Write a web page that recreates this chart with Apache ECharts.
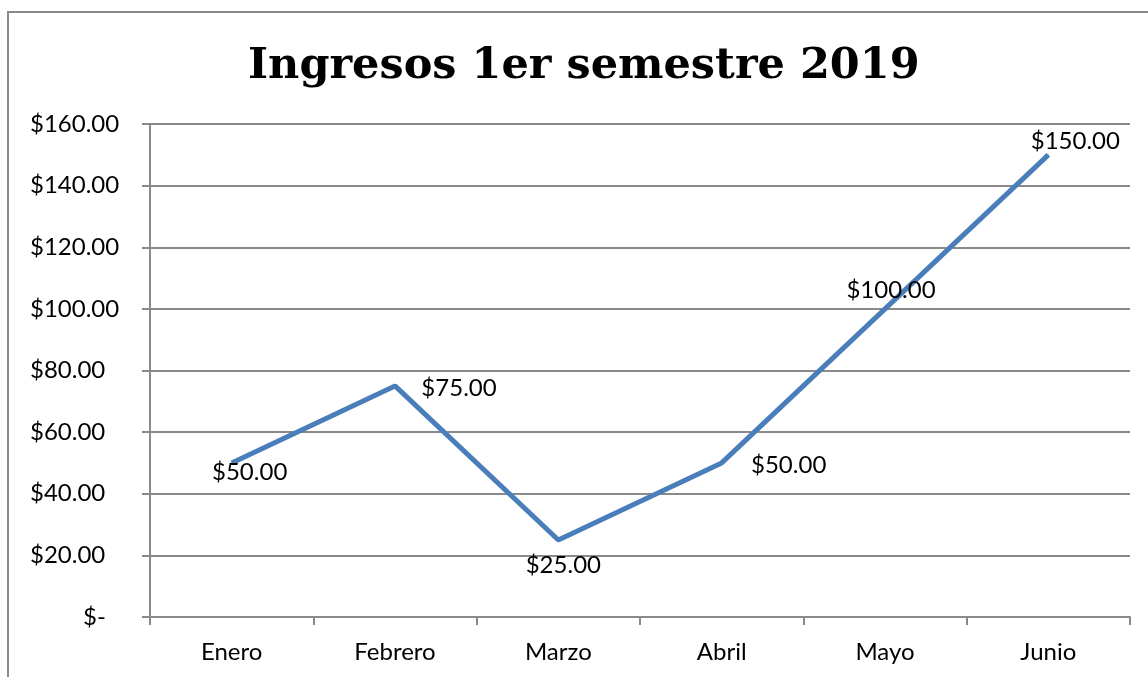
<!DOCTYPE html>
<html>
<head>
<meta charset="utf-8">
<script src="https://cdn.jsdelivr.net/npm/echarts@6/dist/echarts.min.js"></script>
<style>
  html, body { margin: 0; padding: 0; background: #fff; }
  #chart { width: 1148px; height: 677px; }
</style>
</head>
<body>
<div id="chart"></div>
<script>
const titleText = "Ingresos 1er semestre 2019";
const months = ["Enero", "Febrero", "Marzo", "Abril", "Mayo", "Junio"];
const ingresos = [50, 75, 25, 50, 100, 150];
// where Excel put each data label, relative to its point
const labelOffsets = [[18, 9], [64, 2], [5, 25], [67, 2], [6, -19], [27, -14]];

const fmtMoney = (v) => "$" + v.toFixed(2);

const chart = echarts.init(document.getElementById("chart"));

chart.setOption({
  animation: false,
  backgroundColor: "#fff",
  textStyle: { fontFamily: "Lato" },
  title: {
    text: titleText,
    left: 243,
    top: 40,
    textStyle: {
      fontFamily: "DejaVu Serif",
      fontWeight: "bold",
      fontSize: 43,
      color: "#000"
    }
  },
  graphic: [
    {
      type: "rect",
      shape: { x: 8, y: 12, width: 1200, height: 700 },
      style: { fill: "none", stroke: "#8a8a8a", lineWidth: 2 }
    }
  ],
  grid: { left: 150, right: 18, top: 124, bottom: 60 },
  xAxis: {
    type: "category",
    data: months,
    boundaryGap: true,
    axisLine: { lineStyle: { color: "#8a8a8a", width: 2 } },
    axisTick: { show: true, length: 8, lineStyle: { color: "#8a8a8a", width: 2 } },
    axisLabel: { color: "#000", fontSize: 24, margin: 23 }
  },
  yAxis: {
    type: "value",
    min: 0,
    max: 160,
    interval: 20,
    axisLine: { show: true, lineStyle: { color: "#8a8a8a", width: 2 } },
    axisTick: { show: true, length: 8, lineStyle: { color: "#8a8a8a", width: 2 } },
    splitLine: { lineStyle: { color: "#8a8a8a", width: 2 } },
    axisLabel: {
      color: "#000",
      fontSize: 24,
      align: "left",
      margin: 120,
      formatter: (v) => (v === 0 ? "{z|$-}" : fmtMoney(v)),
      rich: { z: { fontSize: 24, color: "#000", padding: [0, 0, 0, 53] } }
    }
  },
  series: [
    {
      type: "line",
      data: ingresos.map((v, i) => ({
        value: v,
        label: { offset: labelOffsets[i] }
      })),
      symbol: "circle",
      symbolSize: 1,
      lineStyle: { color: "#4a7ebb", width: 5 },
      itemStyle: { color: "#4a7ebb" },
      label: {
        show: true,
        position: "inside",
        color: "#000",
        fontSize: 24,
        formatter: (p) => fmtMoney(p.value)
      }
    }
  ]
});
</script>
</body>
</html>
